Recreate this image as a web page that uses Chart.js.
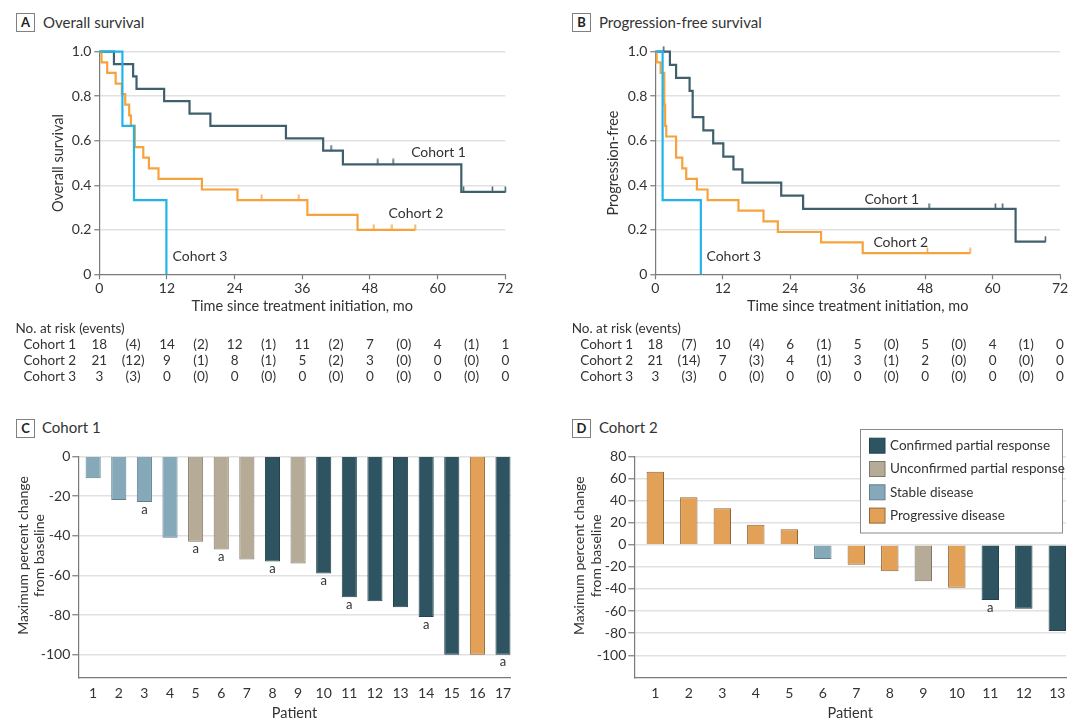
<!DOCTYPE html>
<html>
<head>
<meta charset="utf-8">
<script src="https://cdn.jsdelivr.net/npm/chart.js@4.4.1/dist/chart.umd.min.js"></script>
<style>
  html, body { margin: 0; padding: 0; background: #fff; }
  #wrap { position: relative; width: 1080px; height: 728px; overflow: hidden; font-family: Lato, sans-serif; color: #333; }
  canvas { position: absolute; }
  .tag { position: absolute; box-sizing: border-box; width: 19px; height: 19px; border: 1px solid #808080;
         font: bold 13px Lato, sans-serif; text-align: center; line-height: 17px; color: #222; }
  .ttl { position: absolute; font-size: 15px; line-height: 19px; color: #333; }
</style>
</head>
<body>
<div id="wrap">
  <div class="tag" style="left:16px;top:13px">A</div><div class="ttl" style="left:43px;top:13px">Overall survival</div>
  <div class="tag" style="left:572px;top:13px">B</div><div class="ttl" style="left:599px;top:13px">Progression-free survival</div>
  <div class="tag" style="left:16px;top:419px">C</div><div class="ttl" style="left:42px;top:418px">Cohort 1</div>
  <div class="tag" style="left:572px;top:419px">D</div><div class="ttl" style="left:599px;top:418px">Cohort 2</div>
  <canvas id="os" width="540" height="395" style="left:0;top:0"></canvas>
  <canvas id="pfs" width="540" height="395" style="left:540px;top:0"></canvas>
  <canvas id="wf1" width="540" height="328" style="left:0;top:400px"></canvas>
  <canvas id="wf2" width="540" height="328" style="left:540px;top:400px"></canvas>
</div>
<script>
// ---- data ----
// Kaplan-Meier steps: [month, probability]
const osCohort1 = [[0,1],[2.6,0.944],[6.0,0.889],[6.6,0.833],[11.5,0.778],[16.0,0.722],[19.7,0.667],[33.1,0.611],[39.7,0.556],[43.2,0.494],[64.2,0.370],[72,0.370]];
const osCohort1Cens = [[41.1,0.556],[49.4,0.494],[52.1,0.494],[64.6,0.370],[69.7,0.370],[72,0.370]];
const osCohort2 = [[0,1],[0.4,0.952],[1.4,0.905],[2.9,0.857],[4.0,0.810],[4.6,0.762],[5.3,0.714],[5.6,0.667],[6.3,0.571],[7.8,0.524],[8.8,0.476],[10.5,0.429],[18.2,0.381],[24.5,0.333],[36.9,0.267],[45.8,0.200],[56.0,0.200]];
const osCohort2Cens = [[28.8,0.333],[35.4,0.333],[48.7,0.200],[51.9,0.200],[56.0,0.200]];
const osCohort3 = [[0,1],[4.1,0.667],[6.15,0.333],[11.9,0]];

const pfsCohort1 = [[0,1],[2.6,0.941],[3.7,0.882],[6.1,0.824],[6.65,0.706],[8.55,0.647],[10.3,0.588],[12.1,0.529],[13.9,0.471],[15.5,0.412],[22.4,0.353],[26.3,0.294],[64.1,0.147],[69.4,0.147]];
const pfsCohort1Cens = [[1.5,1],[48.7,0.294],[60.5,0.294],[61.8,0.294],[69.4,0.147]];
const pfsCohort2 = [[0,1],[0.25,0.952],[0.95,0.905],[1.6,0.762],[1.75,0.667],[1.95,0.619],[3.7,0.524],[4.8,0.476],[5.5,0.429],[7.4,0.381],[9.3,0.333],[14.8,0.286],[19.25,0.238],[21.8,0.190],[29.5,0.143],[36.9,0.095],[56.0,0.095]];
const pfsCohort2Cens = [[48.4,0.095],[56.0,0.095]];
const pfsCohort3 = [[0,1],[1.3,0.333],[8.1,0]];

// number at risk table, columns every 6 months (counts at 12-mo marks, events in between)
const riskTimes = [0,6,12,18,24,30,36,42,48,54,60,66,72];
const osRisk1 = ['18','(4)','14','(2)','12','(1)','11','(2)','7','(0)','4','(1)','1'];
const osRisk2 = ['21','(12)','9','(1)','8','(1)','5','(2)','3','(0)','0','(0)','0'];
const osRisk3 = ['3','(3)','0','(0)','0','(0)','0','(0)','0','(0)','0','(0)','0'];
const pfsRisk1 = ['18','(7)','10','(4)','6','(1)','5','(0)','5','(0)','4','(1)','0'];
const pfsRisk2 = ['21','(14)','7','(3)','4','(1)','3','(1)','2','(0)','0','(0)','0'];
const pfsRisk3 = ['3','(3)','0','(0)','0','(0)','0','(0)','0','(0)','0','(0)','0'];

// waterfall: max % change per patient, best response, footnote a
const c1Change = [-11,-22,-23,-41,-43,-47,-52,-53,-54,-59,-71,-73,-76,-81,-100,-100,-100];
const c1Resp = ['SD','SD','SD','SD','uPR','uPR','uPR','cPR','uPR','cPR','cPR','cPR','cPR','cPR','cPR','PD','cPR'];
const c1Note = [0,0,1,0,1,1,0,1,0,1,1,0,0,1,0,0,1];
const c2Change = [66,43,33,18,14,-13,-18,-24,-33,-39,-50,-58,-78];
const c2Resp = ['PD','PD','PD','PD','PD','SD','PD','PD','uPR','PD','cPR','cPR','cPR'];
const c2Note = [0,0,0,0,0,0,0,0,0,0,1,0,0];

const respKeys = ['cPR','uPR','SD','PD'];
const respLabels = ['Confirmed partial response','Unconfirmed partial response','Stable disease','Progressive disease'];

// ---- styling ----
const FONT = 'Lato, sans-serif';
const TXT = '#333';
const GRID = '#e1e1e1';
const AXIS = '#7a7a7a';
const C1 = '#3e5f6c', C2 = '#f6a33d', C3 = '#22b4e8';
const FILL = { cPR: '#2e5461', uPR: '#b6ab97', SD: '#86a9b9', PD: '#e3a157' };
const EDGE = { cPR: '#24434e', uPR: '#7f7768', SD: '#5e7f8d', PD: '#8f6638' };

const pts = (arr) => arr.map(([x, y]) => ({ x, y }));

// censor mark: short vertical stroke sitting on top of the curve
function tickMark(color) {
  const c = document.createElement('canvas');
  c.width = 3; c.height = 12;
  const g = c.getContext('2d');
  g.strokeStyle = color; g.lineWidth = 1.5;
  g.beginPath(); g.moveTo(1.5, 0.5); g.lineTo(1.5, 6.5); g.stroke();
  return c;
}

const curveLabels = {
  id: 'curveLabels',
  afterDatasetsDraw(chart, args, o) {
    const { ctx, scales: { x, y } } = chart;
    ctx.save();
    ctx.font = '14px ' + FONT; ctx.fillStyle = TXT; ctx.textBaseline = 'middle'; ctx.textAlign = 'left';
    o.items.forEach((it) => ctx.fillText(it.text, x.getPixelForValue(it.x), y.getPixelForValue(it.y)));
    ctx.restore();
  },
};

const riskTable = {
  id: 'riskTable',
  afterDraw(chart, args, o) {
    const { ctx, scales: { x } } = chart;
    ctx.save();
    ctx.font = '13.5px ' + FONT; ctx.fillStyle = TXT; ctx.textBaseline = 'middle';
    ctx.textAlign = 'left';
    ctx.fillText('No. at risk (events)', o.headX, o.headY);
    o.rows.forEach((row, r) => {
      const yy = o.rowY[r];
      ctx.textAlign = 'left';
      ctx.fillText(row.name, o.nameX, yy);
      ctx.textAlign = 'center';
      row.values.forEach((v, i) => ctx.fillText(v, x.getPixelForValue(riskTimes[i]), yy));
    });
    ctx.restore();
  },
};

const footnotes = {
  id: 'footnotes',
  afterDatasetsDraw(chart, args, o) {
    const { ctx } = chart;
    ctx.save();
    ctx.font = '13px ' + FONT; ctx.fillStyle = TXT; ctx.textAlign = 'center'; ctx.textBaseline = 'top';
    chart.getDatasetMeta(0).data.forEach((bar, i) => {
      if (o.flags[i]) ctx.fillText('a', bar.x, Math.max(bar.y, bar.base) + 1);
    });
    ctx.restore();
  },
};

const sideTitle = {
  id: 'sideTitle',
  afterDraw(chart, args, o) {
    const { ctx, scales: { y } } = chart;
    const cy = (y.getPixelForValue(o.from) + y.getPixelForValue(o.to)) / 2;
    ctx.save();
    ctx.font = '14px ' + FONT; ctx.fillStyle = TXT; ctx.textAlign = 'center'; ctx.textBaseline = 'middle';
    o.lines.forEach((t, i) => {
      ctx.save(); ctx.translate(o.x[i], cy); ctx.rotate(-Math.PI / 2); ctx.fillText(t, 0, 0); ctx.restore();
    });
    ctx.restore();
  },
};

const boxLegend = {
  id: 'boxLegend',
  afterDraw(chart, args, o) {
    const { ctx } = chart;
    ctx.save();
    ctx.fillStyle = '#fff'; ctx.fillRect(o.left, o.top, o.width, o.height);
    ctx.strokeStyle = '#8a8a8a'; ctx.lineWidth = 1; ctx.strokeRect(o.left + 0.5, o.top + 0.5, o.width, o.height);
    ctx.font = '13.5px ' + FONT; ctx.textBaseline = 'middle'; ctx.textAlign = 'left';
    respKeys.forEach((k, i) => {
      const yy = o.top + o.first + i * o.step;
      ctx.fillStyle = FILL[k]; ctx.fillRect(o.left + 9.5, yy - 7.5, 15.5, 15);
      ctx.strokeStyle = EDGE[k]; ctx.strokeRect(o.left + 9.5, yy - 7.5, 15.5, 15);
      ctx.fillStyle = TXT; ctx.fillText(respLabels[i], o.left + 30, yy);
    });
    ctx.restore();
  },
};

function lineSet(data, color) {
  return { data: pts(data), borderColor: color, borderWidth: 2.2, stepped: 'before', pointRadius: 0, fill: false, clip: 6 };
}
function censSet(data, color) {
  return { data: pts(data), showLine: false, pointStyle: tickMark(color), pointRadius: 4, borderColor: color, clip: 8 };
}

function kmChart(id, cfg) {
  new Chart(document.getElementById(id).getContext('2d'), {
    type: 'line',
    data: {
      datasets: [
        lineSet(cfg.c3, C3), lineSet(cfg.c2, C2), lineSet(cfg.c1, C1),
        censSet(cfg.c2Cens, C2), censSet(cfg.c1Cens, C1),
      ],
    },
    options: {
      responsive: false, animation: false, devicePixelRatio: 1,
      layout: { padding: { left: cfg.padLeft, top: 51.7, right: cfg.padRight, bottom: 395 - 274.3 - 41 } },
      plugins: { legend: { display: false }, tooltip: { enabled: false },
        curveLabels: { items: cfg.labels }, riskTable: cfg.risk },
      scales: {
        x: {
          type: 'linear', min: 0, max: 72,
          afterFit: (s) => { s.height = 41; },
          ticks: { stepSize: 12, color: TXT, font: { family: FONT, size: 14 }, padding: 1, maxRotation: 0 },
          grid: { drawOnChartArea: false, tickColor: AXIS, tickLength: 5, tickWidth: 1.2 },
          border: { color: AXIS, width: 1.2 },
          title: { display: true, text: 'Time since treatment initiation, mo', color: TXT, font: { family: FONT, size: 14.5 }, padding: 0 },
        },
        y: {
          min: 0, max: 1,
          afterFit: (s) => { s.width = cfg.yWidth; },
          ticks: { stepSize: 0.2, color: TXT, font: { family: FONT, size: 14 }, padding: 3,
            callback: (v) => (v === 0 ? '0' : v.toFixed(1)) },
          grid: { color: (c) => (c.tick && c.tick.value === 0 ? 'rgba(0,0,0,0)' : GRID), lineWidth: 1.5, tickColor: AXIS, tickLength: 5, tickWidth: 1.2 },
          border: { color: AXIS, width: 1.2 },
          title: { display: true, text: cfg.yTitle, color: TXT, font: { family: FONT, size: 14.5 }, padding: 0 },
        },
      },
    },
    plugins: [curveLabels, riskTable],
  });
}

kmChart('os', {
  c1: osCohort1, c2: osCohort2, c3: osCohort3, c1Cens: osCohort1Cens, c2Cens: osCohort2Cens,
  padLeft: 49.2, yWidth: 50.1, padRight: 34.7, yTitle: 'Overall survival',
  labels: [{ text: 'Cohort 1', x: 55.3, y: 0.548 }, { text: 'Cohort 2', x: 51.3, y: 0.274 }, { text: 'Cohort 3', x: 13.0, y: 0.082 }],
  risk: { headX: 15.5, headY: 329, nameX: 23.4, rowY: [345, 361, 377],
    rows: [{ name: 'Cohort 1', values: osRisk1 }, { name: 'Cohort 2', values: osRisk2 }, { name: 'Cohort 3', values: osRisk3 }] },
});

kmChart('pfs', {
  c1: pfsCohort1, c2: pfsCohort2, c3: pfsCohort3, c1Cens: pfsCohort1Cens, c2Cens: pfsCohort2Cens,
  padLeft: 64.7, yWidth: 50.6, padRight: 20, yTitle: 'Progression-free',
  labels: [{ text: 'Cohort 1', x: 37.2, y: 0.338 }, { text: 'Cohort 2', x: 38.8, y: 0.144 }, { text: 'Cohort 3', x: 9.1, y: 0.082 }],
  risk: { headX: 31.7, headY: 329, nameX: 40.3, rowY: [345, 361, 377],
    rows: [{ name: 'Cohort 1', values: pfsRisk1 }, { name: 'Cohort 2', values: pfsRisk2 }, { name: 'Cohort 3', values: pfsRisk3 }] },
});

function waterfall(id, cfg) {
  const plugins = [footnotes, sideTitle];
  if (cfg.legend) plugins.push(boxLegend);
  new Chart(document.getElementById(id).getContext('2d'), {
    type: 'bar',
    data: {
      datasets: [{
        data: cfg.change.map((v, i) => ({ x: i + 1, y: v })),
        backgroundColor: cfg.resp.map((k) => FILL[k]),
        borderColor: cfg.resp.map((k) => EDGE[k]),
        borderWidth: 1,
        barPercentage: cfg.barPct,
        categoryPercentage: 1,
      }],
    },
    options: {
      responsive: false, animation: false, devicePixelRatio: 1,
      layout: { padding: { left: 0, top: 56.3, right: cfg.padRight, bottom: 328 - 277.4 - 44.3 } },
      plugins: { legend: { display: false }, tooltip: { enabled: false },
        footnotes: { flags: cfg.notes },
        sideTitle: { lines: ['Maximum percent change', 'from baseline'], x: cfg.titleX, from: cfg.yMax, to: -100 },
        boxLegend: cfg.legend || {} },
      scales: {
        x: {
          type: 'linear', min: cfg.xMin, max: cfg.xMax, offset: false,
          afterFit: (s) => { s.height = 44.3; },
          ticks: { stepSize: 1, includeBounds: false, color: TXT, font: { family: FONT, size: 14 }, padding: 8, maxRotation: 0, autoSkip: false },
          grid: { display: false, drawTicks: false },
          border: { color: AXIS, width: 1.2 },
          title: { display: true, text: 'Patient', color: TXT, font: { family: FONT, size: 14.5 }, padding: 0 },
        },
        y: {
          min: cfg.yMin, max: cfg.yMax,
          afterFit: (s) => { s.width = cfg.yWidth; },
          afterBuildTicks: (s) => {
            s.ticks = s.ticks.filter((t) => t.value >= -100 && Math.abs(t.value % 20) < 1e-6);
          },
          ticks: { stepSize: 20, includeBounds: false, color: TXT, font: { family: FONT, size: 14 }, padding: 2 },
          grid: { color: GRID, lineWidth: 1.5, tickColor: AXIS, tickLength: 6, tickWidth: 1.2 },
          border: { color: AXIS, width: 1.2 },
        },
      },
    },
    plugins,
  });
}

waterfall('wf1', {
  change: c1Change, resp: c1Resp, notes: c1Note, barPct: 0.59,
  xMin: 0.42, xMax: 17.3, yMin: -111.4, yMax: 0, yWidth: 78.3, padRight: 29.3, titleX: [23, 39.5],
});

waterfall('wf2', {
  change: c2Change, resp: c2Resp, notes: c2Note, barPct: 0.52,
  xMin: 0.373, xMax: 13.26, yMin: -120, yMax: 80, yWidth: 94.3, padRight: 14, titleX: [39.5, 56],
  legend: { left: 320, top: 29, width: 202, height: 103.5, first: 16.7, step: 23.3 },
});
</script>
</body>
</html>
